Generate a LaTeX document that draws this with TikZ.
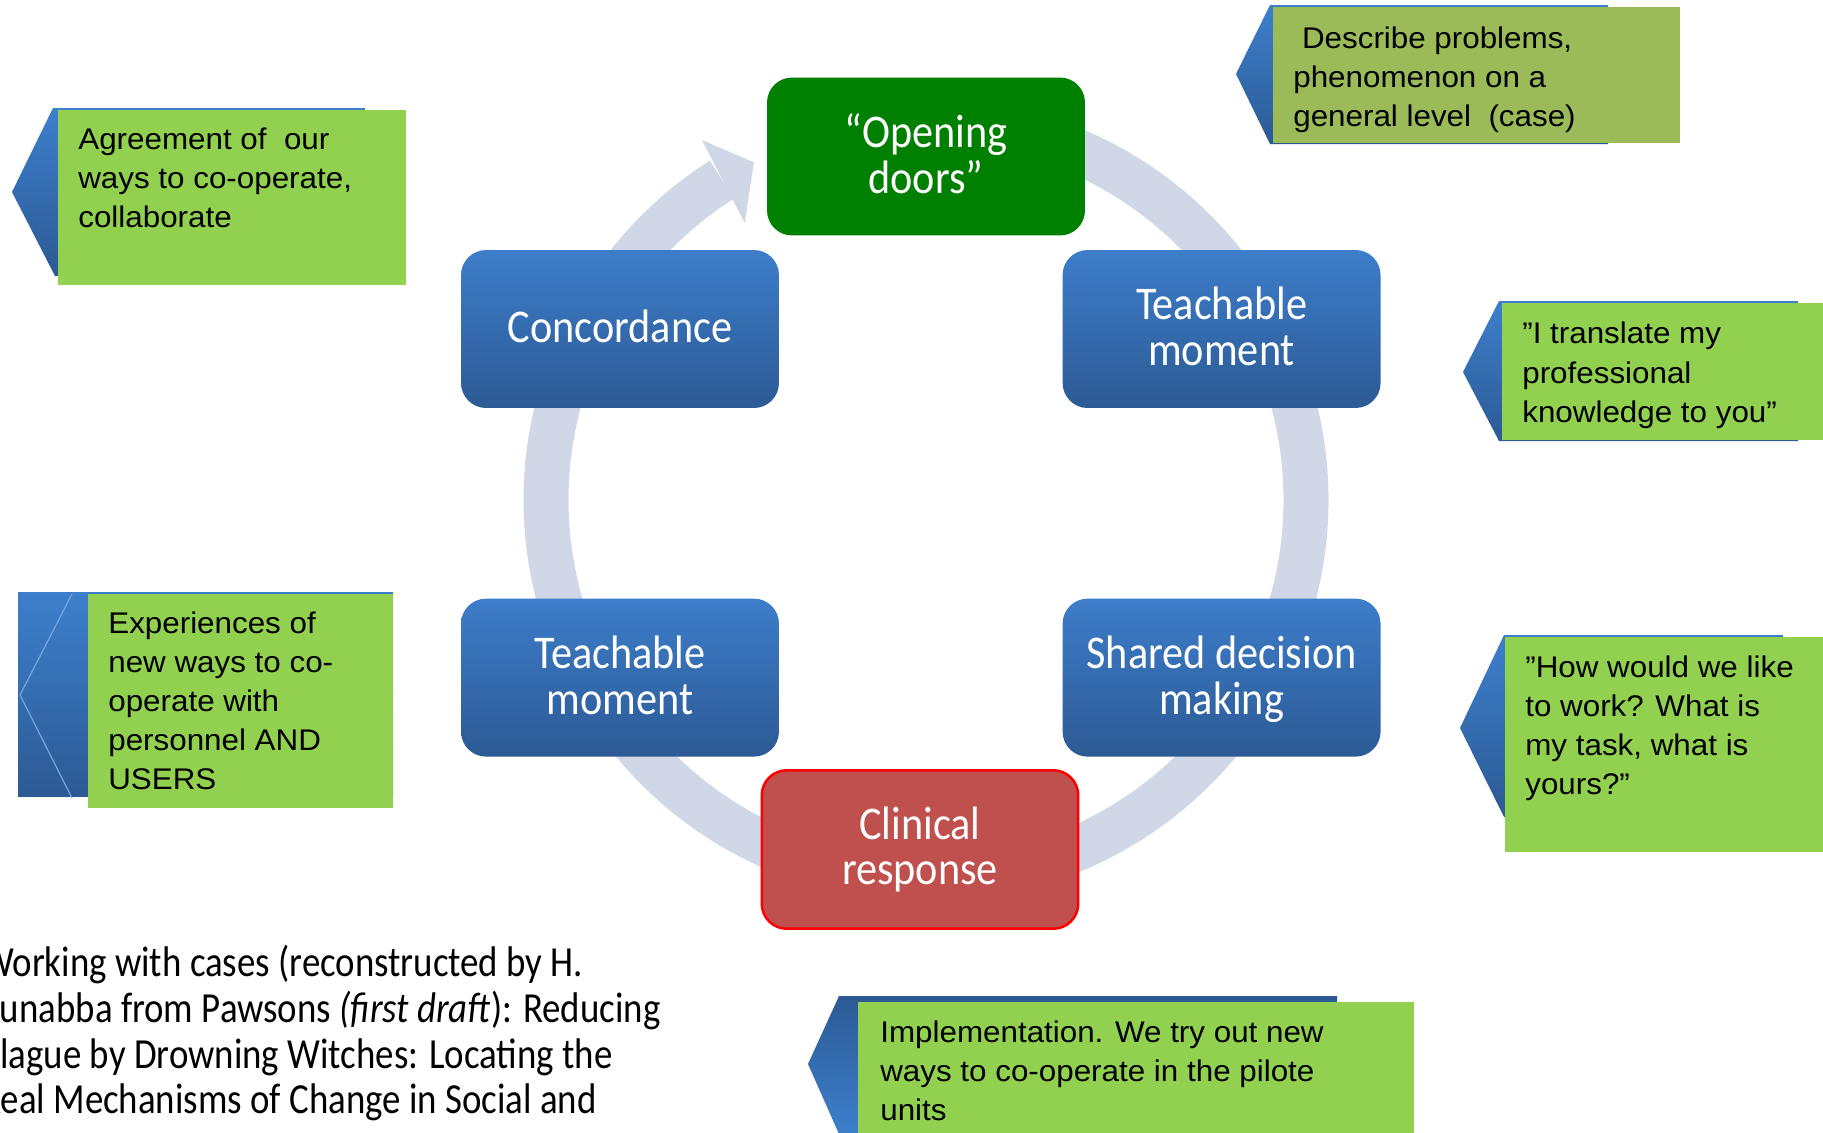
\documentclass[tikz,border=0pt]{standalone}
\usepackage{fontspec}
\usetikzlibrary{positioning, backgrounds}
\newfontfamily\stagefont[FakeStretch=0.9]{Carlito}
\newfontfamily\casefont[FakeStretch=0.86]{Carlito}
\newfontfamily\notefont[FakeStretch=1.05]{Liberation Sans}
\definecolor{ringgrey}{HTML}{D0D8E8}
\definecolor{stagetop}{HTML}{3D7DCA}
\definecolor{stagebot}{HTML}{2C5A94}
\definecolor{doorgreen}{HTML}{008000}
\definecolor{clinred}{HTML}{C0504D}
\definecolor{notegreen}{HTML}{92D050}
\definecolor{noteolive}{HTML}{9BBB59}
\definecolor{tiptop}{HTML}{3D7FCC}
\definecolor{tipbot}{HTML}{2C5A94}
\tikzset{
  stage/.style = {rectangle, rounded corners=0.5cm, minimum width=6.36cm, minimum height=3.16cm, align=center, text=white, inner sep=0pt,
                  font=\stagefont\fontsize{26.7}{26.1}\selectfont},
  bluestage/.style = {stage, top color=stagetop, bottom color=stagebot},
  notebox/.style = {rectangle, fill=notegreen, inner sep=0pt, anchor=north west},
  notetext/.style = {align=left, inner sep=0pt, text=black, font=\notefont\fontsize{17}{22.2}\selectfont},
  tipshade/.style = {top color=tiptop, bottom color=tipbot},
  ring/.style = {line width=0.9cm, ringgrey},
}

\begin{document}
\begin{tikzpicture}[x=0.02cm, y=0.02cm]
    \useasboundingbox (0,0) rectangle (1823,-1133);
    \coordinate (ringc) at (926,-500);

    % stages round the cycle
    \node (doors) [stage, fill=doorgreen, text depth=0.1cm] at (926,-156.5) {“Opening\\doors”};
    \node (conc) [bluestage, text depth=0.1cm] at (620,-329) {Concordance};
    \node (teachl) [bluestage, text depth=0.1cm, below=3.8cm of conc] {Teachable\\moment};
    \node (shared) [bluestage, text depth=0.1cm, right=5.66cm of teachl] {Shared decision\\making};
    \node (teachr) [bluestage, text depth=0.1cm, above=3.8cm of shared] {Teachable\\moment};
    \node (clin) [stage, fill=clinred, draw=red, line width=0.05cm, minimum width=6.33cm, minimum height=3.17cm] at (920,-849.5) {Clinical\\response};

    % notes
    \node (agrbox) [notebox, minimum width=6.96cm, minimum height=3.5cm] at (58,-110) {};
    \node (agr) [notetext, below right=0.36cm and 0.4cm of agrbox.north west] {Agreement of\ \ our\\ways to co-operate,\\collaborate};
    \node (expbox) [notebox, minimum width=6.1cm, minimum height=4.28cm] at (88,-594) {};
    \node (exp) [notetext, below right=0.34cm and 0.4cm of expbox.north west] {Experiences of\\new ways to co-\\operate with\\personnel AND\\USERS};
    \node (descbox) [notebox, fill=noteolive, minimum width=8.14cm, minimum height=2.72cm] at (1273,-7) {};
    \node (desc) [notetext, below right=0.39cm and 0.4cm of descbox.north west] {\ Describe problems,\\phenomenon on a\\general level\ \ (case)};
    \node (transbox) [notebox, minimum width=6.8cm, minimum height=2.74cm] at (1502,-303) {};
    \node (trans) [notetext, below right=0.38cm and 0.4cm of transbox.north west] {”I translate my\\professional\\knowledge to you”};
    \node (howbox) [notebox, minimum width=6.8cm, minimum height=4.3cm] at (1505,-637) {};
    \node (how) [notetext, below right=0.36cm and 0.4cm of howbox.north west] {”How would we like\\to work? What is\\my task, what is\\yours?”};
    \node (implbox) [notebox, minimum width=11.12cm, minimum height=3cm] at (858,-1002) {};
    \node (impl) [notetext, below right=0.36cm and 0.44cm of implbox.north west] {Implementation. We try out new\\ways to co-operate in the pilote\\units};

    \node (cases) [anchor=north west, align=left, inner sep=0pt, font=\casefont\fontsize{24.4}{26}\selectfont] at (-19,-945)
        {Working with cases (reconstructed by H.\\Kunabba from Pawsons \textit{(first draft}): Reducing\\Plague by Drowning Witches: Locating the\\Real Mechanisms of Change in Social and};

    \begin{scope}[on background layer]
        % the cycle
        \draw [ring] ([shift={(68:380)}]ringc) arc[start angle=68, end angle=-237.5, radius=7.6cm];
        \fill [ringgrey] ([shift={(121.9:424)}]ringc) -- ([shift={(117:379)}]ringc) -- ([shift={(123.2:331)}]ringc) -- cycle;
        % arrow tips of the notes
        \shade [tipshade] (53,-108) -- (12,-192) -- (55,-276) -- (365,-276) -- (365,-108) -- cycle;
        \shade [tipshade] (18,-592) rectangle (393,-796);
        \draw [tiptop!70!white, line width=0.7pt] (72,-594) -- (20,-695) -- (72,-798);
        \shade [tipshade] (1270,-5) -- (1236,-74) -- (1270,-144) -- (1608,-144) -- (1608,-5) -- cycle;
        \shade [tipshade] (1499,-301) -- (1463,-372) -- (1499,-441) -- (1798,-441) -- (1798,-301) -- cycle;
        \shade [tipshade] (1504,-635) -- (1460,-728) -- (1504,-817) -- (1783,-817) -- (1783,-635) -- cycle;
        \shade [top color=tipbot, bottom color=tiptop] (839,-996) -- (808,-1064) -- (839,-1134) -- (1337,-1134) -- (1337,-996) -- cycle;
    \end{scope}
\end{tikzpicture}
\end{document}
